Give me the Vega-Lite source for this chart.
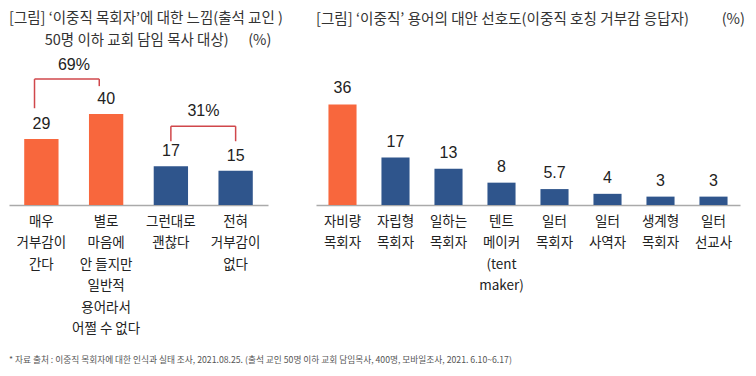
{
  "$schema": "https://vega.github.io/schema/vega-lite/v6.json",
  "padding": {"left": 9, "top": 11, "right": 5, "bottom": 5},
  "bounds": "flush",
  "spacing": 48,
  "title": {
    "text": "* 자료 출처 : 이중직 목회자에 대한 인식과 실태 조사, 2021.08.25. (출석 교인 50명 이하 교회 담임목사, 400명, 모바일조사, 2021. 6.10~6.17)",
    "orient": "bottom",
    "anchor": "start",
    "fontSize": 8.7,
    "fontWeight": "normal",
    "color": "#555555",
    "offset": 21
  },
  "hconcat": [
    {
      "width": 259,
      "height": 148,
      "title": {
        "text": ["[그림] ‘이중직 목회자’에 대한 느낌(출석 교인 )", "\u200b\u00a0\u00a0\u00a0\u00a0\u00a0\u00a0\u00a0\u00a0\u00a0\u00a0\u00a050명 이하 교회 담임 목사 대상)\u00a0\u00a0\u00a0\u00a0\u00a0\u00a0(%)"],
        "anchor": "start",
        "fontSize": 14.5,
        "fontWeight": "normal",
        "color": "#333333",
        "lineHeight": 22,
        "offset": 8,
        "limit": 400
      },
      "layer": [
        {
          "data": {"values": [
            {"c": "매우|거부감이|간다", "v": 29, "g": "hi"},
            {"c": "별로|마음에|안 들지만|일반적|용어라서|어쩔 수 없다", "v": 40, "g": "hi"},
            {"c": "그런대로|괜찮다", "v": 17, "g": "lo"},
            {"c": "전혀|거부감이|없다", "v": 15, "g": "lo"}
          ]},
          "layer": [
            {
              "mark": {"type": "bar"},
              "encoding": {
                "x": {"field": "c", "type": "nominal", "sort": null, "title": null,
                  "scale": {"paddingInner": 0.47, "paddingOuter": 0.235},
                  "axis": {"labelExpr": "split(datum.value, '|')", "labelAngle": 0, "labelFontSize": 13.5, "labelColor": "#222222", "labelLineHeight": 21.5, "labelPadding": 9, "ticks": false, "domainColor": "#aaaaaa", "domainWidth": 1.5, "labelBaseline": "top"}},
                "y": {"field": "v", "type": "quantitative", "scale": {"domain": [0, 65]}, "axis": null},
                "color": {"field": "g", "type": "nominal", "scale": {"domain": ["hi", "lo"], "range": ["#F8673D", "#2F558C"]}, "legend": null}
              }
            },
            {
              "mark": {"type": "text", "dy": -10, "baseline": "alphabetic", "font": "Liberation Sans", "fontSize": 16, "color": "#222222"},
              "encoding": {
                "x": {"field": "c", "type": "nominal", "sort": null},
                "y": {"field": "v", "type": "quantitative", "scale": {"domain": [0, 65]}},
                "text": {"field": "v", "type": "quantitative"}
              }
            }
          ]
        },
        {
          "data": {"values": [
            {"c": "매우|거부감이|간다", "c2": "매우|거부감이|간다", "y": 42.5, "y2": 55.3},
            {"c": "매우|거부감이|간다", "c2": "별로|마음에|안 들지만|일반적|용어라서|어쩔 수 없다", "y": 55.3, "y2": 55.3},
            {"c": "별로|마음에|안 들지만|일반적|용어라서|어쩔 수 없다", "c2": "별로|마음에|안 들지만|일반적|용어라서|어쩔 수 없다", "y": 55.3, "y2": 52.2}
          ]},
          "mark": {"type": "rule", "color": "#D0474B", "strokeWidth": 1.5},
          "encoding": {
            "x": {"field": "c", "type": "nominal", "sort": null, "bandPosition": 0.3},
            "x2": {"field": "c2", "bandPosition": 0.3},
            "y": {"field": "y", "type": "quantitative", "scale": {"domain": [0, 65]}},
            "y2": {"field": "y2"}
          }
        },
        {
          "data": {"values": [
            {"c": "그런대로|괜찮다", "c2": "그런대로|괜찮다", "y": 28, "y2": 34.6},
            {"c": "그런대로|괜찮다", "c2": "전혀|거부감이|없다", "y": 34.6, "y2": 34.6},
            {"c": "전혀|거부감이|없다", "c2": "전혀|거부감이|없다", "y": 34.6, "y2": 28}
          ]},
          "mark": {"type": "rule", "color": "#D0474B", "strokeWidth": 1.5},
          "encoding": {
            "x": {"field": "c", "type": "nominal", "sort": null, "bandPosition": 0.5},
            "x2": {"field": "c2", "bandPosition": 0.5},
            "y": {"field": "y", "type": "quantitative", "scale": {"domain": [0, 65]}},
            "y2": {"field": "y2"}
          }
        },
        {
          "data": {"values": [
            {"c": "매우|거부감이|간다", "y": 59.5, "t": "69%"},
            {"c": "그런대로|괜찮다", "y": 39, "t": "31%"}
          ]},
          "mark": {"type": "text", "baseline": "alphabetic", "font": "Liberation Sans", "fontSize": 16, "color": "#222222"},
          "encoding": {
            "x": {"field": "c", "type": "nominal", "sort": null, "bandPosition": 1.45},
            "y": {"field": "y", "type": "quantitative", "scale": {"domain": [0, 65]}},
            "text": {"field": "t"}
          }
        }
      ]
    },
    {
      "width": 424,
      "height": 148,
      "title": {
        "text": "[그림] ‘이중직’ 용어의 대안 선호도(이중직 호칭 거부감 응답자)\u00a0\u00a0\u00a0\u00a0\u00a0\u00a0\u00a0\u00a0\u00a0\u00a0(%)",
        "anchor": "start",
        "fontSize": 14.6,
        "fontWeight": "normal",
        "color": "#333333",
        "offset": 30,
        "limit": 500
      },
      "data": {"values": [
        {"c": "자비량|목회자", "v": 36, "g": "hi"},
        {"c": "자립형|목회자", "v": 17, "g": "lo"},
        {"c": "일하는|목회자", "v": 13, "g": "lo"},
        {"c": "텐트|메이커|(tent|maker)", "v": 8, "g": "lo"},
        {"c": "일터|목회자", "v": 5.7, "g": "lo"},
        {"c": "일터|사역자", "v": 4, "g": "lo"},
        {"c": "생계형|목회자", "v": 3, "g": "lo"},
        {"c": "일터|선교사", "v": 3, "g": "lo"}
      ]},
      "layer": [
        {
          "mark": {"type": "bar"},
          "encoding": {
            "x": {"field": "c", "type": "nominal", "sort": null, "title": null,
              "scale": {"paddingInner": 0.47, "paddingOuter": 0.235},
              "axis": {"labelExpr": "split(datum.value, '|')", "labelAngle": 0, "labelFontSize": 13.5, "labelColor": "#222222", "labelLineHeight": 21.5, "labelPadding": 9, "ticks": false, "domainColor": "#aaaaaa", "domainWidth": 1.5, "labelBaseline": "top"}},
            "y": {"field": "v", "type": "quantitative", "scale": {"domain": [0, 53]}, "axis": null},
            "color": {"field": "g", "type": "nominal", "scale": {"domain": ["hi", "lo"], "range": ["#F8673D", "#2F558C"]}, "legend": null}
          }
        },
        {
          "mark": {"type": "text", "dy": -11, "baseline": "alphabetic", "font": "Liberation Sans", "fontSize": 16, "color": "#222222"},
          "encoding": {
            "x": {"field": "c", "type": "nominal", "sort": null},
            "y": {"field": "v", "type": "quantitative", "scale": {"domain": [0, 53]}},
            "text": {"field": "v", "type": "quantitative"}
          }
        }
      ]
    }
  ],
  "config": {
    "font": "Noto Sans CJK KR",
    "view": {"stroke": null},
    "axis": {"grid": false}
  }
}
